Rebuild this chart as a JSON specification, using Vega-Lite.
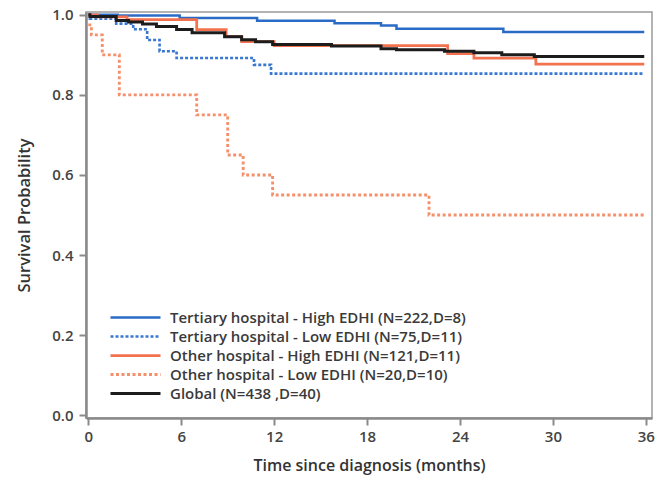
{
  "$schema": "https://vega.github.io/schema/vega-lite/v6.json",
  "width": 566,
  "height": 406,
  "autosize": {"type": "none"},
  "padding": {"left": 86, "top": 12, "right": 18, "bottom": 67},
  "background": "white",
  "config": {
    "view": {"stroke": "#9a9a9a", "strokeWidth": 1.5},
    "font": "Open Sans",
    "axis": {
      "grid": false,
      "domainColor": "#8a8a8a",
      "domainWidth": 2.5,
      "tickColor": "#8a8a8a",
      "tickWidth": 2,
      "tickSize": 7,
      "labelFont": "Open Sans",
      "labelFontSize": 15,
      "labelColor": "#444444",
      "labelFontWeight": 600,
      "titleFont": "Open Sans",
      "titleFontWeight": 600,
      "titleColor": "#333333"
    }
  },
  "data": {
    "values": [
      {"group": "Tertiary hospital - High EDHI (N=222,D=8)", "t": 0, "s": 1.0},
      {"group": "Tertiary hospital - High EDHI (N=222,D=8)", "t": 1.9, "s": 0.998},
      {"group": "Tertiary hospital - High EDHI (N=222,D=8)", "t": 5.9, "s": 0.992},
      {"group": "Tertiary hospital - High EDHI (N=222,D=8)", "t": 10.9, "s": 0.985},
      {"group": "Tertiary hospital - High EDHI (N=222,D=8)", "t": 15.9, "s": 0.979},
      {"group": "Tertiary hospital - High EDHI (N=222,D=8)", "t": 18.9, "s": 0.973},
      {"group": "Tertiary hospital - High EDHI (N=222,D=8)", "t": 19.9, "s": 0.965},
      {"group": "Tertiary hospital - High EDHI (N=222,D=8)", "t": 26.8, "s": 0.957},
      {"group": "Tertiary hospital - High EDHI (N=222,D=8)", "t": 35.9, "s": 0.957},

      {"group": "Tertiary hospital - Low EDHI (N=75,D=11)", "t": 0, "s": 1.0},
      {"group": "Tertiary hospital - Low EDHI (N=75,D=11)", "t": 0.1, "s": 0.99},
      {"group": "Tertiary hospital - Low EDHI (N=75,D=11)", "t": 1.8, "s": 0.978},
      {"group": "Tertiary hospital - Low EDHI (N=75,D=11)", "t": 2.9, "s": 0.964},
      {"group": "Tertiary hospital - Low EDHI (N=75,D=11)", "t": 3.8, "s": 0.937},
      {"group": "Tertiary hospital - Low EDHI (N=75,D=11)", "t": 4.6, "s": 0.909},
      {"group": "Tertiary hospital - Low EDHI (N=75,D=11)", "t": 5.7, "s": 0.892},
      {"group": "Tertiary hospital - Low EDHI (N=75,D=11)", "t": 10.7, "s": 0.875},
      {"group": "Tertiary hospital - Low EDHI (N=75,D=11)", "t": 11.8, "s": 0.853},
      {"group": "Tertiary hospital - Low EDHI (N=75,D=11)", "t": 35.9, "s": 0.853},

      {"group": "Other hospital - High EDHI (N=121,D=11)", "t": 0, "s": 1.0},
      {"group": "Other hospital - High EDHI (N=121,D=11)", "t": 0.6, "s": 0.995},
      {"group": "Other hospital - High EDHI (N=121,D=11)", "t": 2.5, "s": 0.988},
      {"group": "Other hospital - High EDHI (N=121,D=11)", "t": 7.0, "s": 0.963},
      {"group": "Other hospital - High EDHI (N=121,D=11)", "t": 8.9, "s": 0.946},
      {"group": "Other hospital - High EDHI (N=121,D=11)", "t": 9.9, "s": 0.933},
      {"group": "Other hospital - High EDHI (N=121,D=11)", "t": 12.0, "s": 0.923},
      {"group": "Other hospital - High EDHI (N=121,D=11)", "t": 23.2, "s": 0.903},
      {"group": "Other hospital - High EDHI (N=121,D=11)", "t": 24.9, "s": 0.892},
      {"group": "Other hospital - High EDHI (N=121,D=11)", "t": 28.9, "s": 0.877},
      {"group": "Other hospital - High EDHI (N=121,D=11)", "t": 35.9, "s": 0.877},

      {"group": "Other hospital - Low EDHI (N=20,D=10)", "t": 0, "s": 0.975},
      {"group": "Other hospital - Low EDHI (N=20,D=10)", "t": 0.2, "s": 0.95},
      {"group": "Other hospital - Low EDHI (N=20,D=10)", "t": 0.9, "s": 0.9},
      {"group": "Other hospital - Low EDHI (N=20,D=10)", "t": 2.0, "s": 0.8},
      {"group": "Other hospital - Low EDHI (N=20,D=10)", "t": 7.0, "s": 0.75},
      {"group": "Other hospital - Low EDHI (N=20,D=10)", "t": 9.0, "s": 0.65},
      {"group": "Other hospital - Low EDHI (N=20,D=10)", "t": 10.0, "s": 0.6},
      {"group": "Other hospital - Low EDHI (N=20,D=10)", "t": 11.9, "s": 0.55},
      {"group": "Other hospital - Low EDHI (N=20,D=10)", "t": 22.0, "s": 0.5},
      {"group": "Other hospital - Low EDHI (N=20,D=10)", "t": 36.0, "s": 0.5},

      {"group": "Global  (N=438 ,D=40)", "t": 0, "s": 1.0},
      {"group": "Global  (N=438 ,D=40)", "t": 0.1, "s": 0.996},
      {"group": "Global  (N=438 ,D=40)", "t": 1.8, "s": 0.986},
      {"group": "Global  (N=438 ,D=40)", "t": 2.6, "s": 0.982},
      {"group": "Global  (N=438 ,D=40)", "t": 3.5, "s": 0.977},
      {"group": "Global  (N=438 ,D=40)", "t": 4.4, "s": 0.971},
      {"group": "Global  (N=438 ,D=40)", "t": 5.7, "s": 0.963},
      {"group": "Global  (N=438 ,D=40)", "t": 6.7, "s": 0.955},
      {"group": "Global  (N=438 ,D=40)", "t": 8.8, "s": 0.945},
      {"group": "Global  (N=438 ,D=40)", "t": 9.9, "s": 0.938},
      {"group": "Global  (N=438 ,D=40)", "t": 10.8, "s": 0.933},
      {"group": "Global  (N=438 ,D=40)", "t": 11.9, "s": 0.926},
      {"group": "Global  (N=438 ,D=40)", "t": 15.7, "s": 0.922},
      {"group": "Global  (N=438 ,D=40)", "t": 18.9, "s": 0.915},
      {"group": "Global  (N=438 ,D=40)", "t": 19.9, "s": 0.913},
      {"group": "Global  (N=438 ,D=40)", "t": 23.0, "s": 0.909},
      {"group": "Global  (N=438 ,D=40)", "t": 24.9, "s": 0.905},
      {"group": "Global  (N=438 ,D=40)", "t": 26.7, "s": 0.900},
      {"group": "Global  (N=438 ,D=40)", "t": 28.8, "s": 0.896},
      {"group": "Global  (N=438 ,D=40)", "t": 35.9, "s": 0.896}
    ]
  },
  "mark": {"type": "line", "interpolate": "step-after", "strokeCap": "butt"},
  "encoding": {
    "x": {
      "field": "t", "type": "quantitative",
      "scale": {"domain": [-0.15, 36.4], "nice": false, "zero": false},
      "axis": {"values": [0, 6, 12, 18, 24, 30, 36], "title": "Time since diagnosis (months)", "titleFontSize": 16, "labelPadding": 4, "titlePadding": 13}
    },
    "y": {
      "field": "s", "type": "quantitative",
      "scale": {"domain": [-0.007, 1.007], "nice": false, "zero": false},
      "axis": {"values": [0, 0.2, 0.4, 0.6, 0.8, 1.0], "format": ".1f", "title": "Survival Probability", "titleFontSize": 16.5, "labelPadding": 6, "titlePadding": 19}
    },
    "color": {
      "field": "group", "type": "nominal",
      "scale": {
        "domain": ["Tertiary hospital - High EDHI (N=222,D=8)", "Tertiary hospital - Low EDHI (N=75,D=11)", "Other hospital - High EDHI (N=121,D=11)", "Other hospital - Low EDHI (N=20,D=10)", "Global  (N=438 ,D=40)"],
        "range": ["#2a6bc6", "#3a78cf", "#f2714f", "#f5906c", "#1c1c1c"]
      },
      "legend": {
        "title": null,
        "orient": "none",
        "legendX": 42,
        "legendY": 298,
        "padding": 0,
        "symbolType": "M-5,0H5",
        "symbolSize": 100,
        "labelFont": "Open Sans",
        "labelFontSize": 15,
        "labelFontWeight": 600,
        "labelColor": "#3a3a3a",
        "labelOffset": 27,
        "labelLimit": 0,
        "rowPadding": 3
      }
    },
    "strokeDash": {
      "field": "group", "type": "nominal",
      "scale": {
        "domain": ["Tertiary hospital - High EDHI (N=222,D=8)", "Tertiary hospital - Low EDHI (N=75,D=11)", "Other hospital - High EDHI (N=121,D=11)", "Other hospital - Low EDHI (N=20,D=10)", "Global  (N=438 ,D=40)"],
        "range": [[1, 0], [3, 2], [1, 0], [3, 2.5], [1, 0]]
      },
      "legend": null
    },
    "strokeWidth": {
      "field": "group", "type": "nominal",
      "scale": {
        "domain": ["Tertiary hospital - High EDHI (N=222,D=8)", "Tertiary hospital - Low EDHI (N=75,D=11)", "Other hospital - High EDHI (N=121,D=11)", "Other hospital - Low EDHI (N=20,D=10)", "Global  (N=438 ,D=40)"],
        "range": [2.5, 3, 4.5, 3.5, 2]
      },
      "legend": null
    }
  }
}
